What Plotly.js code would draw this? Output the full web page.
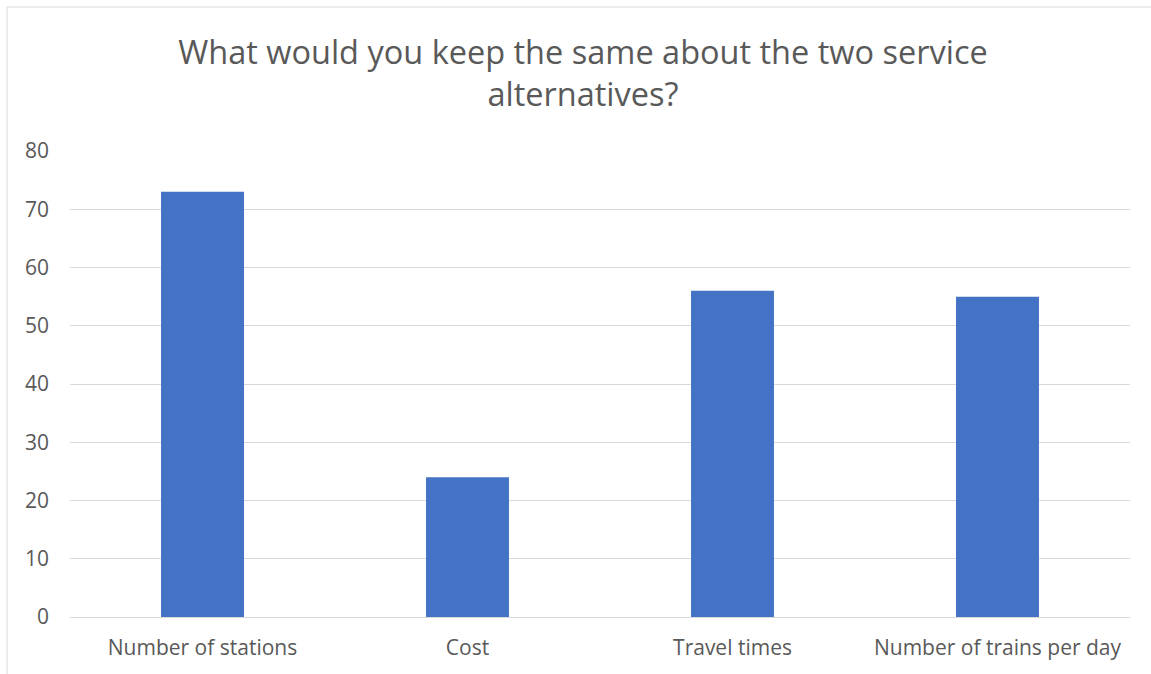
<!DOCTYPE html>
<html>
<head>
<meta charset="utf-8">
<script src="https://cdn.plot.ly/plotly-3.0.1.min.js"></script>
<style>html,body{margin:0;padding:0;background:#fff;}#chart{width:1151px;height:674px;}</style>
</head>
<body>
<div id="chart"></div>
<script>
const categories = ["Number of stations", "Cost", "Travel times", "Number of trains per day"];
const values = [73, 24, 56, 55];
const yTicks = [0, 10, 20, 30, 40, 50, 60, 70, 80];
const titleText = "What would you keep the same about the two service<br>alternatives?";

const textColor = "#595959";
const gridColor = "#d9d9d9";
const fontFamily = "'Open Sans', 'Liberation Sans', sans-serif";

const trace = {
  type: "bar",
  x: categories,
  y: values,
  marker: {color: "#4472C4"},
  hoverinfo: "x+y"
};

const L = 70, R = 21, T = 151, B = 57, W = 1151, H = 674;
const pw = W - L - R, ph = H - T - B;
const px = p => (p - L) / pw;
const py = p => (H - B - p) / ph;

const layout = {
  width: W, height: H,
  margin: {l: L, r: R, t: T, b: B, pad: 0},
  paper_bgcolor: "#ffffff",
  plot_bgcolor: "#ffffff",
  font: {family: fontFamily, color: textColor, size: 21},
  title: {
    text: titleText,
    font: {family: fontFamily, size: 32.5, color: textColor},
    x: 583 / W, xref: "container", xanchor: "center",
    y: 1 - 64 / H, yref: "container", yanchor: "top"
  },
  bargap: 0.687,
  showlegend: false,
  xaxis: {
    type: "category",
    showgrid: false,
    showline: false,
    zeroline: false,
    ticks: "",
    tickfont: {size: 21, color: textColor},
    ticklabelstandoff: 16
  },
  yaxis: {
    range: [0, 80],
    tickvals: yTicks,
    ticktext: yTicks.map(String),
    showgrid: true,
    gridcolor: gridColor,
    gridwidth: 1,
    zeroline: true,
    zerolinecolor: gridColor,
    zerolinewidth: 1,
    showline: false,
    ticks: "",
    tickfont: {size: 21, color: textColor},
    ticklabelstandoff: 20
  },
  shapes: [
    {type: "line", xref: "paper", yref: "paper", x0: px(7), x1: px(7), y0: py(H), y1: py(7), line: {color: gridColor, width: 1}},
    {type: "line", xref: "paper", yref: "paper", x0: px(7), x1: px(W), y0: py(7), y1: py(7), line: {color: gridColor, width: 1}}
  ]
};

Plotly.newPlot("chart", [trace], layout, {displayModeBar: false, staticPlot: true});
</script>
</body>
</html>
